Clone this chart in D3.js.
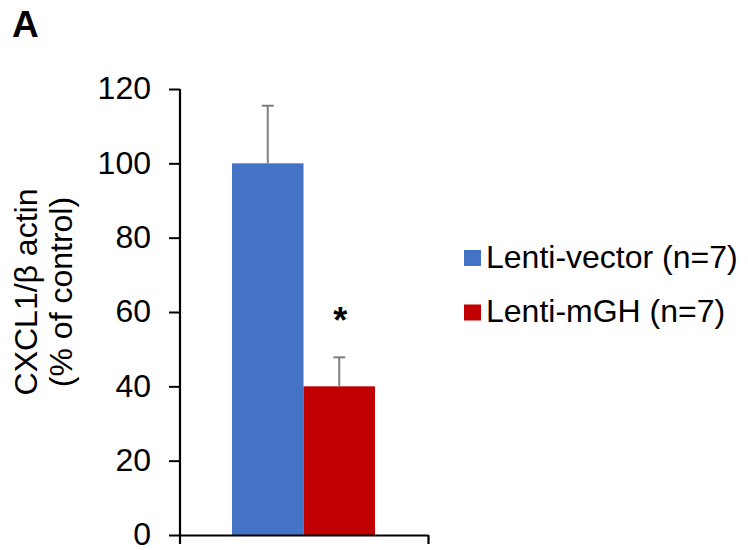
<!DOCTYPE html>
<html>
<head>
<meta charset="utf-8">
<script src="https://cdn.jsdelivr.net/npm/d3@7"></script>
<style>
  html, body { margin: 0; padding: 0; background: #fff; }
  svg { display: block; font-family: Arial, "Liberation Sans", sans-serif; }
</style>
</head>
<body>
<svg id="chart" width="748" height="550"></svg>
<script>
// Relative CXCL1 expression per group
const groups = ["Lenti-vector (n=7)", "Lenti-mGH (n=7)"];
const means = [100, 40];
const errors = [15.5, 7.8];
const colors = ["#4472C4", "#C00000"];
const yTicks = [0, 20, 40, 60, 80, 100, 120];
const significance = ["", "*"];

const svg = d3.select("#chart");

const plot = { left: 180, right: 428, top: 89, bottom: 535 };

const y = d3.scaleLinear().domain([0, 120]).range([plot.bottom, plot.top]);

// Single category slot; bars sit side by side in its middle
const x = d3.scaleBand()
  .domain(groups)
  .range([232, 375])
  .paddingInner(0);

// Panel letter
svg.append("text")
  .attr("x", 12).attr("y", 37)
  .attr("font-size", 37).attr("font-weight", "bold")
  .text("A");

// Bars
svg.selectAll("rect.bar")
  .data(groups)
  .join("rect")
  .attr("class", "bar")
  .attr("x", d => x(d))
  .attr("width", x.bandwidth())
  .attr("y", (d, i) => y(means[i]))
  .attr("height", (d, i) => y(0) - y(means[i]))
  .attr("fill", (d, i) => colors[i]);

// Error bars (upper only)
const eb = svg.selectAll("g.err")
  .data(groups)
  .join("g")
  .attr("class", "err")
  .attr("stroke", "#7f7f7f")
  .attr("stroke-width", 2);
eb.append("line")
  .attr("x1", d => x(d) + x.bandwidth() / 2)
  .attr("x2", d => x(d) + x.bandwidth() / 2)
  .attr("y1", (d, i) => y(means[i]))
  .attr("y2", (d, i) => y(means[i] + errors[i]));
eb.append("line")
  .attr("x1", d => x(d) + x.bandwidth() / 2 - 6)
  .attr("x2", d => x(d) + x.bandwidth() / 2 + 6)
  .attr("y1", (d, i) => y(means[i] + errors[i]))
  .attr("y2", (d, i) => y(means[i] + errors[i]));

// Significance marks above the error bars
svg.selectAll("text.sig")
  .data(groups)
  .join("text")
  .attr("class", "sig")
  .attr("x", d => x(d) + x.bandwidth() / 2 + 1)
  .attr("y", (d, i) => y(means[i] + errors[i]) - 24)
  .attr("text-anchor", "middle")
  .attr("font-size", 36)
  .attr("font-weight", "bold")
  .text((d, i) => significance[i]);

// Y axis
const yAxis = d3.axisLeft(y).tickValues(yTicks).tickSize(11).tickPadding(18).tickSizeOuter(0);
const gy = svg.append("g")
  .attr("transform", `translate(${plot.left},0)`)
  .call(yAxis);
gy.select(".domain").attr("stroke", "#000").attr("stroke-width", 2.2)
  .attr("d", `M0,${plot.top}V${plot.bottom + 9}`);
gy.selectAll(".tick line").attr("stroke", "#000").attr("stroke-width", 2);
gy.selectAll(".tick text")
  .attr("font-size", 32)
  .attr("font-family", "Arial, 'Liberation Sans', sans-serif")
  .attr("fill", "#000")
  .attr("dy", "0.31em");

// X axis: baseline with boundary ticks at both ends
const xEdge = d3.scaleLinear().domain([0, 1]).range([plot.left, plot.right]);
const gx = svg.append("g")
  .attr("transform", `translate(0,${plot.bottom})`)
  .call(d3.axisBottom(xEdge).tickValues([1]).tickSize(9).tickFormat("").tickSizeOuter(0));
gx.select(".domain").attr("stroke", "#000").attr("stroke-width", 2.2);
gx.selectAll(".tick line").attr("stroke", "#000").attr("stroke-width", 2.2);

// Y axis title
const title = svg.append("text")
  .attr("transform", "translate(37,292) rotate(-90)")
  .attr("text-anchor", "middle")
  .attr("font-size", 32)
  .attr("fill", "#000");
title.append("tspan").attr("x", 0).attr("dy", 0).text("CXCL1/β actin");
title.append("tspan").attr("x", 0).attr("dy", 34.5).text("(% of control)");

// Legend
const legend = svg.selectAll("g.legend")
  .data(groups)
  .join("g")
  .attr("class", "legend")
  .attr("transform", (d, i) => `translate(464,${258 + i * 54.5})`);
legend.append("rect")
  .attr("x", 0).attr("y", -8)
  .attr("width", 17).attr("height", 16)
  .attr("fill", (d, i) => colors[i]);
legend.append("text")
  .attr("x", 22).attr("y", 9.5)
  .attr("font-size", 32)
  .attr("fill", "#000")
  .text(d => d);
</script>
</body>
</html>
